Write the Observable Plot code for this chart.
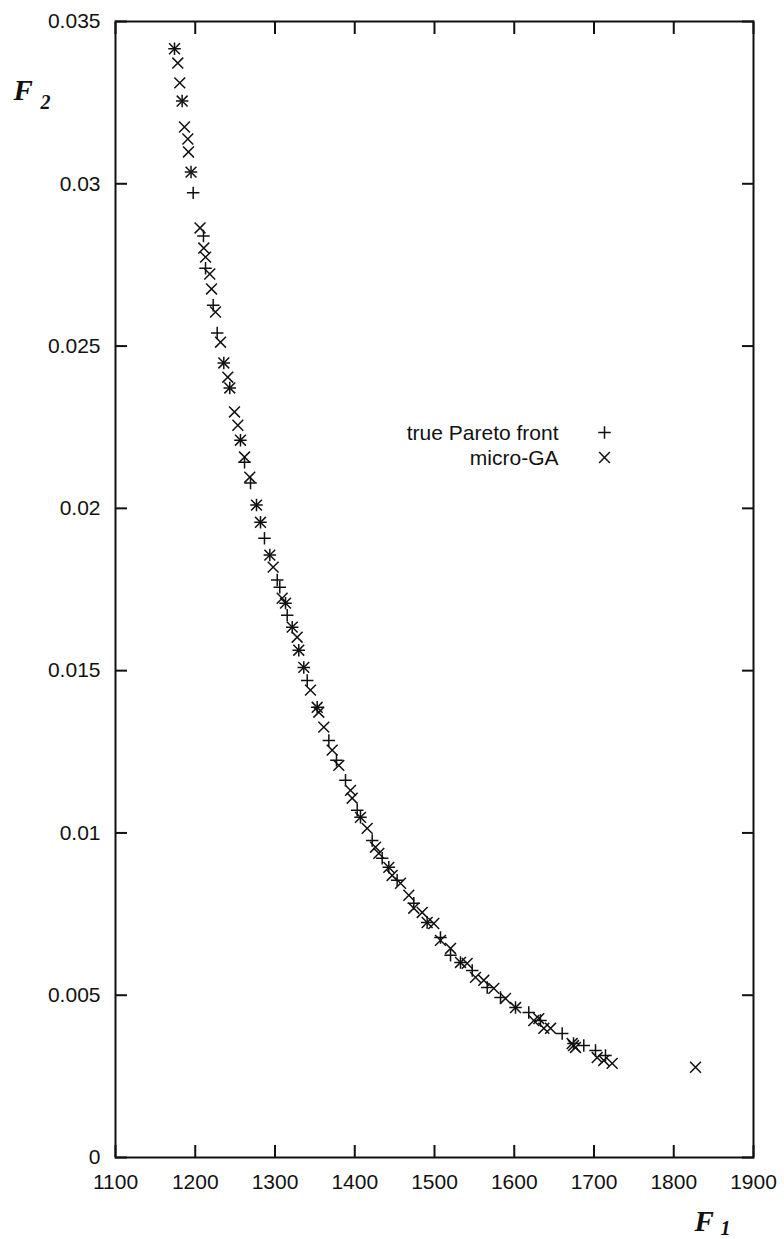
<!DOCTYPE html>
<html>
<head>
<meta charset="utf-8">
<script src="https://cdn.jsdelivr.net/npm/d3@7"></script>
<script src="https://cdn.jsdelivr.net/npm/@observablehq/plot@0.6"></script>
<style>
  html, body { margin: 0; padding: 0; background: #fff; }
  #chart svg { display: block; }
</style>
</head>
<body>
<div id="chart"></div>
<script>
// ---- data ----
const paretoF1 = [1174.0, 1183.6, 1194.7, 1197.4, 1210.3, 1212.9, 1222.5, 1227.5, 1235.8, 1243.3,
  1256.7, 1261.8, 1269.3, 1276.8, 1281.8, 1286.8, 1293.5, 1302.8, 1306.0, 1313.2,
  1315.3, 1321.6, 1329.8, 1336.1, 1340.4, 1352.9, 1367.5, 1377.1, 1388.4, 1403.1,
  1407.2, 1421.9, 1434.4, 1442.7, 1453.2, 1474.0, 1490.8, 1507.5, 1520.1, 1532.6,
  1547.3, 1566.1, 1582.8, 1601.6, 1618.2, 1632.9, 1660.1, 1674.3, 1687.2, 1701.9, 1714.4];
const paretoF2 = [0.03416, 0.03255, 0.03036, 0.02972, 0.02839, 0.02740, 0.02626, 0.02540, 0.02448, 0.02371,
  0.02210, 0.02142, 0.02078, 0.02010, 0.01957, 0.01908, 0.01856, 0.01779, 0.01757, 0.01708,
  0.01671, 0.01634, 0.01563, 0.01510, 0.01470, 0.01387, 0.01285, 0.01224, 0.01162, 0.01070,
  0.01048, 0.00977, 0.00922, 0.00894, 0.00854, 0.00783, 0.00724, 0.00678, 0.00623, 0.00601,
  0.00576, 0.00524, 0.00493, 0.00462, 0.00447, 0.00422, 0.00382, 0.00351, 0.00345, 0.00330, 0.00314];

const microGAF1 = [1174.0, 1178.1, 1180.6, 1183.6, 1186.5, 1190.7, 1191.5, 1194.7, 1206.0, 1210.7,
  1212.9, 1218.2, 1220.4, 1225.4, 1231.7, 1235.8, 1240.8, 1243.3, 1249.2, 1253.4,
  1256.7, 1261.8, 1268.4, 1276.8, 1281.8, 1293.5, 1297.7, 1309.0, 1313.2, 1321.6,
  1327.8, 1329.8, 1336.1, 1344.5, 1352.9, 1354.9, 1361.2, 1371.7, 1380.0, 1394.7,
  1396.8, 1407.2, 1415.6, 1426.0, 1430.2, 1442.7, 1446.9, 1457.4, 1467.8, 1474.0,
  1484.6, 1490.8, 1499.1, 1507.5, 1520.1, 1532.6, 1541.0, 1551.4, 1561.8, 1574.4,
  1589.0, 1601.6, 1624.5, 1630.8, 1637.1, 1645.5, 1672.6, 1676.8, 1674.3, 1704.0,
  1712.3, 1722.8, 1827.3];
const microGAF2 = [0.03416, 0.03372, 0.03311, 0.03255, 0.03175, 0.03138, 0.03098, 0.03036, 0.02864, 0.02802,
  0.02774, 0.02722, 0.02676, 0.02605, 0.02512, 0.02448, 0.02404, 0.02371, 0.02297, 0.02256,
  0.02210, 0.02158, 0.02096, 0.02010, 0.01957, 0.01856, 0.01819, 0.01723, 0.01708, 0.01634,
  0.01603, 0.01563, 0.01510, 0.01440, 0.01387, 0.01372, 0.01326, 0.01255, 0.01208, 0.01131,
  0.01107, 0.01048, 0.01014, 0.00956, 0.00937, 0.00894, 0.00869, 0.00845, 0.00808, 0.00768,
  0.00755, 0.00724, 0.00721, 0.00669, 0.00644, 0.00601, 0.00598, 0.00555, 0.00546, 0.00521,
  0.00490, 0.00462, 0.00422, 0.00428, 0.00398, 0.00398, 0.00351, 0.00339, 0.00345, 0.00308,
  0.00299, 0.00290, 0.00278];

const xTicks = [1100, 1200, 1300, 1400, 1500, 1600, 1700, 1800, 1900];
const xTickLabels = ["1100", "1200", "1300", "1400", "1500", "1600", "1700", "1800", "1900"];
const yTicks = [0, 0.005, 0.01, 0.015, 0.02, 0.025, 0.03, 0.035];
const yTickLabels = ["0", "0.005", "0.01", "0.015", "0.02", "0.025", "0.03", "0.035"];

const legendLabels = ["true Pareto front", "micro-GA"];
const legendSymbols = ["plus", "times"];

// ---- build ----
const pareto = paretoF1.map((x, i) => ({x, y: paretoF2[i]}));
const micro = microGAF1.map((x, i) => ({x, y: microGAF2[i]}));

const W = 784, H = 1239;
const mL = 115, mR = 31, mT = 21, mB = 82;
const ink = "#111";
const sans = "'Liberation Sans', Arial, Helvetica, sans-serif";
const serif = "'Liberation Serif', 'Times New Roman', serif";
const symR = {plus: 4.1, times: 5.0};
const symStroke = 1.5;

const xFmt = d => xTickLabels[xTicks.indexOf(d)];
const yFmt = d => yTickLabels[yTicks.indexOf(d)];

const legendMarks = legendLabels.flatMap((label, i) => [
  Plot.text([label], {frameAnchor: "top-left", dx: 443, dy: 412 + i * 25,
    textAnchor: "end", lineAnchor: "middle", fontSize: 21, fill: ink}),
  Plot.dot([label], {frameAnchor: "top-left", dx: 489, dy: 411 + i * 25,
    symbol: legendSymbols[i], r: symR[legendSymbols[i]], stroke: ink, strokeWidth: symStroke})
]);

const chart = Plot.plot({
  width: W,
  height: H,
  marginLeft: mL, marginRight: mR, marginTop: mT, marginBottom: mB,
  style: {fontFamily: sans, fontSize: "21px", color: ink, background: "#fff", overflow: "visible"},
  x: {domain: [1100, 1900], nice: false},
  y: {domain: [0, 0.035], nice: false},
  marks: [
    Plot.frame({stroke: ink, strokeWidth: 2}),
    Plot.axisX(xTicks, {anchor: "bottom", tickSize: -12, tickPadding: 29, tickFormat: xFmt, label: null, strokeWidth: 2, fontSize: 21}),
    Plot.axisX(xTicks, {anchor: "top", tickSize: -12, tickFormat: () => "", label: null, strokeWidth: 2}),
    Plot.axisY(yTicks, {anchor: "left", tickSize: -12, tickPadding: 27, tickFormat: yFmt, label: null, strokeWidth: 2, fontSize: 21}),
    Plot.axisY(yTicks, {anchor: "right", tickSize: -12, tickFormat: () => "", label: null, strokeWidth: 2}),
    Plot.dot(pareto, {x: "x", y: "y", symbol: "plus", r: symR.plus, stroke: ink, strokeWidth: symStroke}),
    Plot.dot(micro, {x: "x", y: "y", symbol: "times", r: symR.times, stroke: ink, strokeWidth: symStroke}),
    ...legendMarks,
    // axis titles: F2 (left) and F1 (bottom right), serif bold italic with subscripts
    Plot.text(["F"], {frameAnchor: "top-left", dx: -102, dy: 78, textAnchor: "start", lineAnchor: "bottom",
      fontFamily: serif, fontWeight: "bold", fontStyle: "italic", fontSize: 29, fill: ink}),
    Plot.text(["2"], {frameAnchor: "top-left", dx: -75, dy: 87, textAnchor: "start", lineAnchor: "bottom",
      fontFamily: serif, fontWeight: "bold", fontStyle: "italic", fontSize: 20, fill: ink}),
    Plot.text(["F"], {frameAnchor: "bottom-right", dx: -59, dy: 73, textAnchor: "start", lineAnchor: "bottom",
      fontFamily: serif, fontWeight: "bold", fontStyle: "italic", fontSize: 29, fill: ink}),
    Plot.text(["1"], {frameAnchor: "bottom-right", dx: -33, dy: 77, textAnchor: "start", lineAnchor: "bottom",
      fontFamily: serif, fontWeight: "bold", fontStyle: "italic", fontSize: 20, fill: ink})
  ]
});

document.getElementById("chart").appendChild(chart);
</script>
</body>
</html>
